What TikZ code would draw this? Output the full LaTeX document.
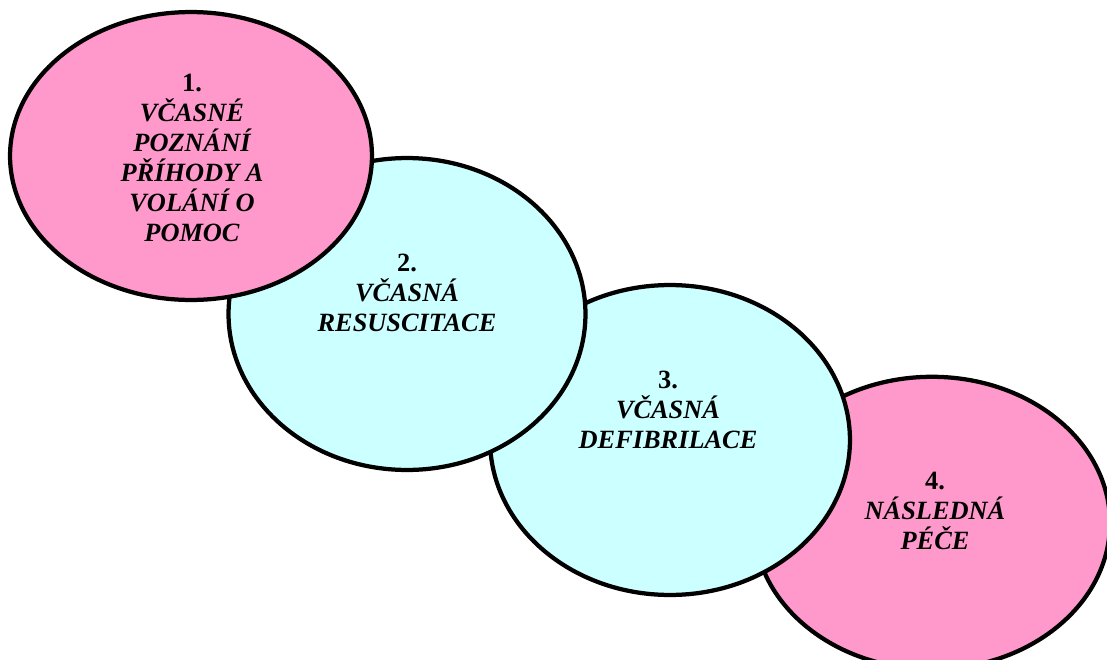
\documentclass[tikz,border=0pt]{standalone}
\usepackage{fontspec}
\setmainfont{Liberation Serif}
\usetikzlibrary{shapes.geometric}
\definecolor{chainpink}{HTML}{FF99CC}
\definecolor{chaincyan}{HTML}{CCFFFF}

\begin{document}
\begin{tikzpicture}
  [
    x=0.02cm, y=-0.02cm,
    every node/.style={font=\fontsize{15}{17}\selectfont\bfseries\itshape},
    align=center
  ]
  \tikzset{
    base/.style = {ellipse, draw=black, line width=0.085cm, inner sep=0pt},
    pinkstyle/.style = {base, fill=chainpink},
    cyanstyle/.style = {base, fill=chaincyan},
    textstyle/.style = {align=center, inner sep=0pt},
  }
  \useasboundingbox (0,0) rectangle (1107,660);

  % links drawn last-to-first so that each step lies over the next one
  \node (step4) [pinkstyle, minimum width=7.12cm, minimum height=5.85cm] at (932,523) {};
  \node (step3) [cyanstyle, minimum width=7.2cm, minimum height=6.2cm] at (670,440) {};
  \node (step2) [cyanstyle, minimum width=7.14cm, minimum height=6.24cm] at (407,314) {};
  \node (step1) [pinkstyle, minimum width=7.24cm, minimum height=5.76cm] at (191,156) {};

  \node (text1) [textstyle] at (192,158) {{\upshape 1.}\\VČASNÉ\\POZNÁNÍ\\PŘÍHODY A\\VOLÁNÍ O\\POMOC};
  \node (text2) [textstyle] at (407,293) {{\upshape 2.}\\VČASNÁ\\RESUSCITACE};
  \node (text3) [textstyle] at (668,410) {{\upshape 3.}\\VČASNÁ\\DEFIBRILACE};
  \node (text4) [textstyle] at (935,511) {{\upshape 4.}\\NÁSLEDNÁ\\PÉČE};
\end{tikzpicture}
\end{document}
